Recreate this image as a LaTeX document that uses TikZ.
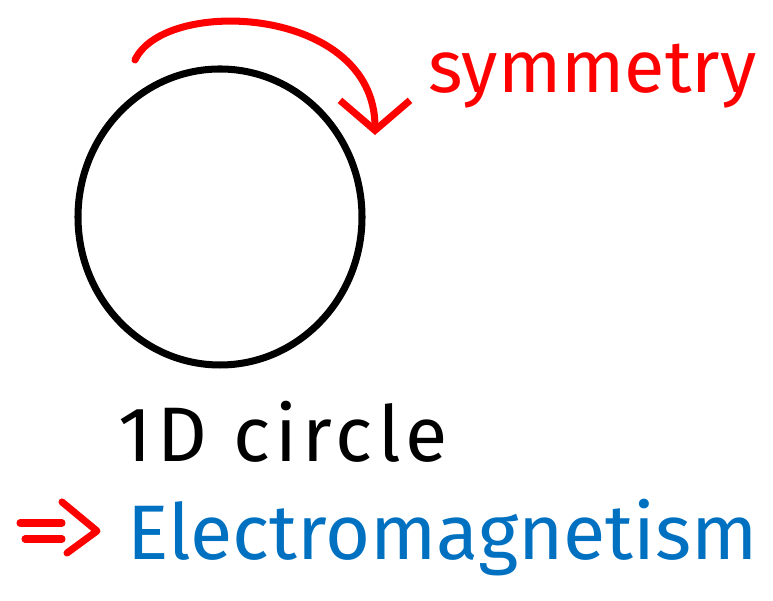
\documentclass[tikz,border=0pt]{standalone}
\usepackage{fontspec}
\setmainfont{Fira Sans}
\usetikzlibrary{arrows.meta}
\definecolor{inkred}{RGB}{255,0,0}
\definecolor{inkblue}{RGB}{0,112,192}

\begin{document}
\begin{tikzpicture}[>=Straight Barb,
  pen/.style={line width=2pt,line cap=round,line join=round},
  word/.style={anchor=base west,inner sep=0pt,font=\fontsize{21}{21}\selectfont}]
  \useasboundingbox (0,0) rectangle (7.73,6.01);
  \coordinate (c) at (2.20,3.84);
  \draw[pen] (c) ellipse[x radius=1.42,y radius=1.48];
  \coordinate (s) at (1.35,5.41);
  \coordinate (t) at (3.75,4.66);
  \draw[pen,inkred,-{Straight Barb[length=3mm,width=7mm]}] (s) .. controls (1.65,6.05) and (3.75,5.95) .. (t);
  \node[word,inkred] (sym) at (4.28,5.08) {symmetry};
  \node[word,font=\fontsize{22}{22}\selectfont\addfontfeatures{LetterSpace=7}] (lab) at (1.18,1.39) {1D circle};
  \node[word,inkblue,font=\fontsize{22}{22}\selectfont] (elec) at (1.27,0.41) {Electromagnetism};
  % the implies sign in front of the last line
  \coordinate (imp) at (0.97,0.70);
  \draw[pen,inkred] (0.20,0.78) -- (0.62,0.78) (0.25,0.62) -- (0.62,0.62);
  \draw[pen,inkred] (0.62,0.99) -- (imp) -- (0.67,0.48);
\end{tikzpicture}
\end{document}
